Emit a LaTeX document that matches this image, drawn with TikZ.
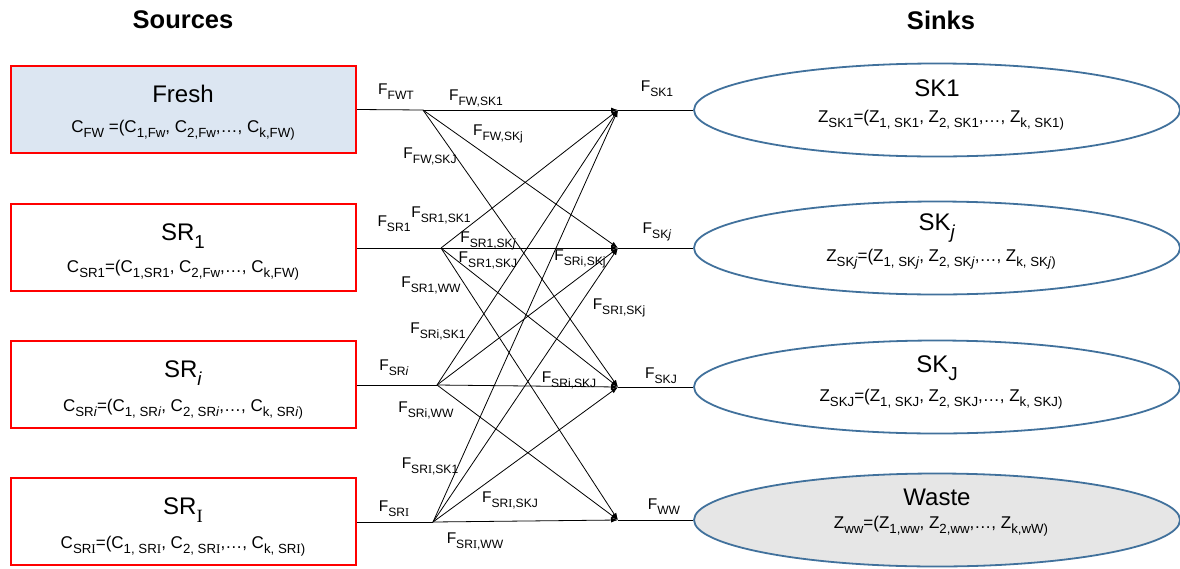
\documentclass[tikz,border=0pt]{standalone}
\usepackage{fontspec}
\setmainfont{Liberation Sans}
\newfontfamily\serifI{Liberation Serif}
\usetikzlibrary{shapes.geometric,arrows.meta}
\newcommand\sbx[1]{\raisebox{-0.32em}{\scalebox{0.78}{#1}}}
\newcommand\rI{{\serifI I}}
\definecolor{srcred}{HTML}{FF0000}
\definecolor{freshfill}{HTML}{DCE6F2}
\definecolor{sinkblue}{HTML}{41719C}
\definecolor{wastefill}{HTML}{E6E6E6}
\begin{document}
\begin{tikzpicture}[x=1pt,y=-1pt,
  srcbox/.style={draw=srcred, line width=2pt, minimum width=345, minimum height=87, inner sep=0},
  sinkell/.style={ellipse, draw=sinkblue, line width=1.8pt, minimum width=486, minimum height=93, inner sep=0},
  ttl/.style={font=\fontsize{24}{28}\selectfont, inner sep=0},
  frm/.style={font=\fontsize{17}{20}\selectfont, inner sep=0},
  lbl/.style={font=\fontsize{15.5}{18}\selectfont, inner sep=0},
  head/.style={font=\bfseries\fontsize{25.5}{29}\selectfont, inner sep=0},
  wire/.style={line width=0.8pt},
  flow/.style={line width=0.8pt, -{Latex[length=7pt,width=5pt]}}]
\useasboundingbox (0,0) rectangle (1180,568);
% headings
\node[head] (hsrc) at (183,20) {Sources};
\node[head] (hsnk) at (941,20) {Sinks};
% source boxes
\node[srcbox, fill=freshfill] (fresh) at (183.5,109.5) {};
\node[srcbox] (sr1) at (183.5,247.5) {};
\node[srcbox] (sri) at (183.5,384.5) {};
\node[srcbox] (srI) at (183.5,521.5) {};
\node[ttl] (tfresh) at (183,94) {Fresh};
\node[frm] (cfresh) at (183,130) {C\sbx{FW} =(C\sbx{1,Fw}, C\sbx{2,Fw},\dots, C\sbx{k,FW)}};
\node[ttl] (tsr1) at (183,236) {SR\sbx{1}};
\node[frm] (csr1) at (183,270) {C\sbx{SR1}=(C\sbx{1,SR1}, C\sbx{2,Fw},\dots, C\sbx{k,FW)}};
\node[ttl] (tsri) at (183,373) {SR\sbx{\textit{i}}};
\node[frm] (csri) at (183,409) {C\sbx{SR\textit{i}}=(C\sbx{1, SR\textit{i}}, C\sbx{2, SR\textit{i}},\dots, C\sbx{k, SR\textit{i})}};
\node[ttl] (tsrI) at (183,510) {SR\sbx{\rI}};
\node[frm] (csrI) at (183,546) {C\sbx{SR\rI}=(C\sbx{1, SR\rI}, C\sbx{2, SR\rI},\dots, C\sbx{k, SR\rI)}};
% sink ellipses
\node[sinkell] (sk1) at (937,110) {};
\node[sinkell] (skj) at (937,248) {};
\node[sinkell] (skJ) at (937,387) {};
\node[sinkell, fill=wastefill] (ww) at (937,520) {};
\node[ttl] (tsk1) at (937,88) {SK1};
\node[frm] (zsk1) at (941,120) {Z\sbx{SK1}=(Z\sbx{1, SK1}, Z\sbx{2, SK1},\dots, Z\sbx{k, SK1)}};
\node[ttl] (tskj) at (937,228) {SK\sbx{\textit{j}}};
\node[frm] (zskj) at (941,259) {Z\sbx{SK\textit{j}}=(Z\sbx{1, SK\textit{j}}, Z\sbx{2, SK\textit{j}},\dots, Z\sbx{k, SK\textit{j})}};
\node[ttl] (tskJ) at (937,368) {SK\sbx{J}};
\node[frm] (zskJ) at (941,399) {Z\sbx{SKJ}=(Z\sbx{1, SKJ}, Z\sbx{2, SKJ},\dots, Z\sbx{k, SKJ)}};
\node[ttl] (tww) at (937,497) {Waste};
\node[frm] (zww) at (941,526) {Z\sbx{ww}=(Z\sbx{1,ww}, Z\sbx{2,ww},\dots, Z\sbx{k,wW)}};
% fan-out and merge points
\coordinate (fF) at (423,110);
\coordinate (f1) at (441,248);
\coordinate (fi) at (437,385);
\coordinate (fI) at (433,522);
\coordinate (m1) at (618,110);
\coordinate (m2) at (618,248);
\coordinate (m3) at (618,387);
\coordinate (mw) at (618,520);
% source lines
\draw[wire] (fresh.east) -- (fF);
\draw[wire] (sr1.east |- f1) -- (f1);
\draw[wire] (sri.east |- fi) -- (fi);
\draw[wire] (srI.east |- fI) -- (fI);
% sink lines
\draw[wire] (m1) -- (sk1.west);
\draw[wire] (m2) -- (skj.west);
\draw[wire] (m3) -- (skJ.west);
\draw[wire] (mw) -- (ww.west);
% flows
\foreach \m in {m1,m2,m3} \draw[flow] (fF) -- (\m);
\foreach \f in {f1,fi,fI} \foreach \m in {m1,m2,m3,mw} \draw[flow] (\f) -- (\m);
% labels
\node[lbl] (lfwt) at (396,92) {F\sbx{FWT}};
\node[lbl] (lfw1) at (476,98) {F\sbx{FW,SK1}};
\node[lbl] (lfwj) at (498,134) {F\sbx{FW,SKj}};
\node[lbl] (lfwJ) at (430,156) {F\sbx{FW,SKJ}};
\node[lbl] (lsr1) at (394,224) {F\sbx{SR1}};
\node[lbl] (l11) at (441,215) {F\sbx{SR1,SK1}};
\node[lbl] (l1j) at (488,241) {F\sbx{SR1,SK\textit{j}}};
\node[lbl] (l1J) at (488,260) {F\sbx{SR1,SKJ}};
\node[lbl] (l1w) at (431,285) {F\sbx{SR1,WW}};
\node[lbl] (lij) at (580,259) {F\sbx{SRi,SKj}};
\node[lbl] (lIj) at (619,308) {F\sbx{SR\rI,SKj}};
\node[lbl] (li1) at (438,331) {F\sbx{SRi,SK1}};
\node[lbl] (lsri) at (394,368) {F\sbx{SR\textit{i}}};
\node[lbl] (liJ) at (569,380) {F\sbx{SRi,SKJ}};
\node[lbl] (liw) at (426,410) {F\sbx{SRi,WW}};
\node[lbl] (lI1) at (430,466) {F\sbx{SR\rI,SK1}};
\node[lbl] (lIJ) at (510,500) {F\sbx{SR\rI,SKJ}};
\node[lbl] (lsrI) at (394,509) {F\sbx{SR\rI}};
\node[lbl] (lIw) at (475,541) {F\sbx{SR\rI,WW}};
\node[lbl] (lsk1) at (657,89) {F\sbx{SK1}};
\node[lbl] (lskj) at (657,232) {F\sbx{SK\textit{j}}};
\node[lbl] (lskJ) at (661,376) {F\sbx{SKJ}};
\node[lbl] (lww) at (664,507) {F\sbx{WW}};
\end{tikzpicture}
\end{document}
